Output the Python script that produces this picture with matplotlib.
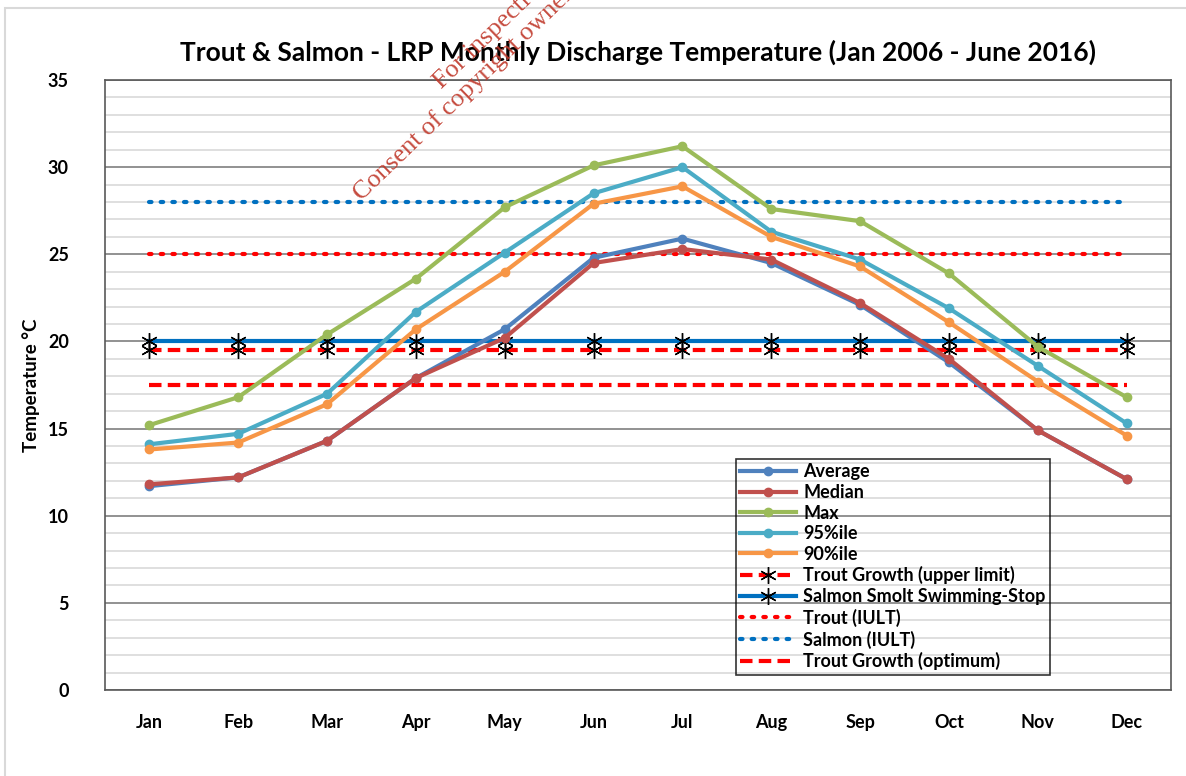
import matplotlib.pyplot as plt
from matplotlib.patches import Rectangle

months = ['Jan', 'Feb', 'Mar', 'Apr', 'May', 'Jun', 'Jul', 'Aug', 'Sep', 'Oct', 'Nov', 'Dec']
average = [11.7, 12.2, 14.3, 17.9, 20.7, 24.8, 25.9, 24.5, 22.1, 18.8, 14.9, 12.1]
median = [11.8, 12.2, 14.3, 17.9, 20.2, 24.5, 25.3, 24.7, 22.2, 19.0, 14.9, 12.1]
max_t = [15.2, 16.8, 20.4, 23.6, 27.7, 30.1, 31.2, 27.6, 26.9, 23.9, 19.7, 16.8]
p95 = [14.1, 14.7, 17.0, 21.7, 25.1, 28.5, 30.0, 26.3, 24.7, 21.9, 18.6, 15.3]
p90 = [13.8, 14.2, 16.4, 20.7, 24.0, 27.9, 28.9, 26.0, 24.3, 21.1, 17.7, 14.6]
trout_growth_upper = 19.5
salmon_smolt_stop = 20
trout_iult = 25
salmon_iult = 28
trout_growth_opt = 17.5

font = 'Lato'
plt.rcParams['font.family'] = font

fig = plt.figure(figsize=(11.86, 7.76), dpi=100)
ax = fig.add_axes([0.0885, 0.1108, 0.8989, 0.7861])

x = [i + 0.5 for i in range(len(months))]
n = len(months)

ax.plot(x, average, color='#4F81BD', lw=3, marker='o', ms=6, label='Average', zorder=5)
ax.plot(x, median, color='#C0504D', lw=3, marker='o', ms=6, label='Median', zorder=6)
ax.plot(x, max_t, color='#9BBB59', lw=3, marker='o', ms=6, label='Max', zorder=5)
ax.plot(x, p95, color='#4BACC6', lw=3, marker='o', ms=6, label='95%ile', zorder=5)
ax.plot(x, p90, color='#F79646', lw=3, marker='o', ms=6, label='90%ile', zorder=5)

star = (6, 2, 0)
ax.plot(x, [trout_growth_upper] * n, color='red', lw=3, ls=(0, (3, 1.5)),
        marker=star, ms=12, mec='black', mew=1, label='Trout Growth (upper limit)', zorder=4)
ax.plot(x, [salmon_smolt_stop] * n, color='#0070C0', lw=3, ls='-',
        marker=star, ms=12, mec='black', mew=1, label='Salmon Smolt Swimming-Stop', zorder=4)
ax.plot(x, [trout_iult] * n, color='red', lw=3, ls=(0, (0.6, 2.2)), dash_capstyle='round',
        label='Trout (IULT)', zorder=3)
ax.plot(x, [salmon_iult] * n, color='#0070C0', lw=3, ls=(0, (0.6, 2.2)), dash_capstyle='round',
        label='Salmon (IULT)', zorder=3)
ax.plot(x, [trout_growth_opt] * n, color='red', lw=3, ls=(0, (3, 1.5)),
        label='Trout Growth (optimum)', zorder=3)

ax.set_xlim(0, n)
ax.set_ylim(0, 35)
ax.set_xticks(x)
ax.set_xticklabels(months, fontsize=13, fontweight='bold')
ax.set_yticks(range(0, 36, 5))
ax.set_yticklabels([str(v) for v in range(0, 36, 5)], fontsize=13, fontweight='bold')
ax.set_yticks(range(0, 36), minor=True)
ax.tick_params(axis='both', which='both', length=0)
ax.tick_params(axis='x', pad=17)
ax.tick_params(axis='y', pad=26)
ax.grid(axis='y', which='minor', color='#D9D9D9', lw=1.2)
ax.grid(axis='y', which='major', color='#7F7F7F', lw=1.2)
ax.set_axisbelow(True)
for s in ax.spines.values():
    s.set_color('#595959')
    s.set_linewidth(1.2)

ax.set_ylabel('Temperature °C', fontsize=13.5, fontweight='bold', labelpad=6)
ax.set_title('Trout & Salmon - LRP Monthly Discharge Temperature (Jan 2006 - June 2016)',
             fontsize=19, fontweight='bold', pad=14)

leg = ax.legend(loc='lower left', bbox_to_anchor=(0.5915, 0.025),
                prop={'weight': 'bold', 'size': 13}, frameon=True, fancybox=False,
                handlelength=3.1, handletextpad=0.4, labelspacing=0.2, borderpad=0.25,
                borderaxespad=0)
leg.get_frame().set_facecolor('none')
leg.get_frame().set_edgecolor('black')
leg.get_frame().set_linewidth(1.2)

# outer chart border
fig.patches.append(Rectangle((0.004, -0.01), 1.2, 1.0, transform=fig.transFigure,
                             fill=False, ec='#D9D9D9', lw=1.5))

# watermark
fig.text(0.305, 0.74, 'Consent of copyright owner required for any other use.',
         rotation=44, color='#C0392B', fontsize=19, family='Liberation Serif',
         rotation_mode='anchor', ha='left', va='baseline', alpha=0.9)
fig.text(0.372, 0.885, 'For inspection purposes only.',
         rotation=44, color='#C0392B', fontsize=19, family='Liberation Serif',
         rotation_mode='anchor', ha='left', va='baseline', alpha=0.9)

fig.savefig('out.png', dpi=100)
